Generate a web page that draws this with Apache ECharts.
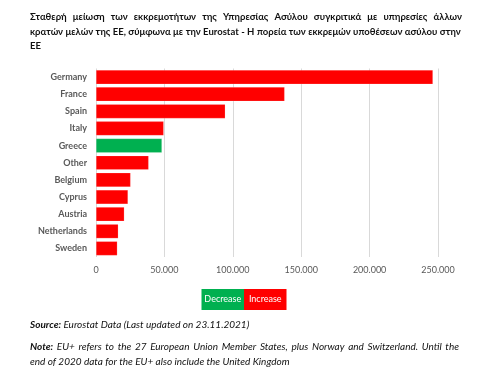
<!DOCTYPE html>
<html><head><meta charset="utf-8">
<script src="https://cdn.jsdelivr.net/npm/echarts@6/dist/echarts.min.js"></script>
<style>html,body{margin:0;padding:0;background:#fff}#c{width:500px;height:374px}</style>
</head><body><div id="c"></div>
<script>
// ---- data ----
const categories = ['Germany','France','Spain','Italy','Greece','Other','Belgium','Cyprus','Austria','Netherlands','Sweden'];
const values = [246300,137900,94500,49500,48200,38500,25300,23400,20700,16300,15600];
const trend = ['Increase','Increase','Increase','Increase','Decrease','Increase','Increase','Increase','Increase','Increase','Increase'];
const legendItems = ['Decrease','Increase'];
const axisMin = 0, axisMax = 250000, axisStep = 50000;
const titleLines = [
  'Σταθερή μείωση των εκκρεμοτήτων της Υπηρεσίας Ασύλου συγκριτικά με υπηρεσίες άλλων',
  'κρατών μελών της ΕΕ, σύμφωνα με την Eurostat - Η πορεία των εκκρεμών υποθέσεων ασύλου στην',
  'ΕΕ'
];
const sourceLabel = 'Source:';
const sourceText = 'Eurostat Data (Last updated on 23.11.2021)';
const noteLabel = 'Note:';
const noteLines = [
  'EU+ refers to the 27 European Union Member States, plus Norway and Switzerland. Until the',
  'end of 2020 data for the EU+ also include the United Kingdom'
];

const colors = {Decrease:'#00B050', Increase:'#FF0000'};
const FAM = 'Lato, "Open Sans", sans-serif';

const cv = document.createElement('canvas').getContext('2d');
function mw(t, size, weight, style){ cv.font = `${style||'normal'} ${weight||'normal'} ${size}px ${FAM}`; return cv.measureText(t).width; }
function fitSize(t, width, weight, style){ return 10 * width / mw(t, 10, weight, style); }

// build a line of words; justify optional
function lineEls(words, x, y, width, size, justify, fill){
  const ws = words.map(w => mw(w.t, size, w.weight, w.style));
  const sum = ws.reduce((a,b)=>a+b,0);
  const sp = mw(' ', size, 'normal', words[words.length-1].style);
  const gap = justify ? (width - sum)/(words.length-1) : sp;
  let cx = x; const els = [];
  words.forEach((w,i)=>{
    els.push({type:'text', silent:true, style:{text:w.t, x:cx, y:y, fontSize:size, fontFamily:FAM, fontWeight:w.weight||'normal', fontStyle:w.style||'normal', fill:fill||'#111', verticalAlign:'middle', align:'left'}});
    cx += ws[i] + gap;
  });
  return els;
}
function splitWords(s, weight, style){ return s.split(' ').map(t=>({t, weight, style})); }

const titleSize = fitSize(titleLines[1], 430, 'bold');
const noteSize = fitSize(noteLines[1], 260, 'normal', 'italic');

let g = [];
g = g.concat(lineEls(splitWords(titleLines[0],'bold'), 30, 16.5, 432, titleSize, true));
g = g.concat(lineEls(splitWords(titleLines[1],'bold'), 30, 31.5, 430, titleSize, false));
g = g.concat(lineEls(splitWords(titleLines[2],'bold'), 30, 45.5, 430, titleSize, false));
g = g.concat(lineEls([{t:sourceLabel,weight:'bold',style:'italic'}].concat(splitWords(sourceText,'normal','italic')), 30, 325, 0, noteSize, false));
g = g.concat(lineEls([{t:noteLabel,weight:'bold',style:'italic'}].concat(splitWords(noteLines[0],'normal','italic')), 30, 346.5, 429, noteSize, true));
g = g.concat(lineEls(splitWords(noteLines[1],'normal','italic'), 30, 361.5, 0, noteSize, false));

// legend boxes
legendItems.forEach((name,i)=>{
  const x0 = 201.5 + i*42.5;
  g.push({type:'rect', silent:true, shape:{x:x0, y:289, width:42.5, height:21}, style:{fill:colors[name]}});
  g.push({type:'text', silent:true, style:{text:name, x:x0+21.25, y:299.5, fontSize:9, fontFamily:FAM, fill:'#fff', align:'center', verticalAlign:'middle'}});
});

const chart = echarts.init(document.getElementById('c'), null, {renderer:'canvas'});
chart.setOption({
  animation:false,
  backgroundColor:'#fff',
  grid:{left:96, right:62, top:68.5, bottom:117, containLabel:false},
  xAxis:{type:'value', min:axisMin, max:axisMax, interval:axisStep,
    axisLine:{show:false}, axisTick:{show:false},
    splitLine:{lineStyle:{color:'#d9d9d9', width:1}},
    axisLabel:{color:'#595959', fontSize:9, fontFamily:FAM, margin:9,
      formatter:v=>String(v).replace(/\B(?=(\d{3})+(?!\d))/g,'.')}},
  yAxis:{type:'category', inverse:true, data:categories,
    axisLine:{show:false}, axisTick:{show:false},
    axisLabel:{color:'#595959', fontSize:9, fontWeight:'bold', fontFamily:FAM, margin:9}},
  series:[{type:'bar', barWidth:'83%',
    data: values.map((v,i)=>({value:v, itemStyle:{color:colors[trend[i]]}})),
    itemStyle:{borderColor:'rgba(255,255,255,0.35)', borderWidth:0.5}}],
  graphic:g
});
</script></body></html>
